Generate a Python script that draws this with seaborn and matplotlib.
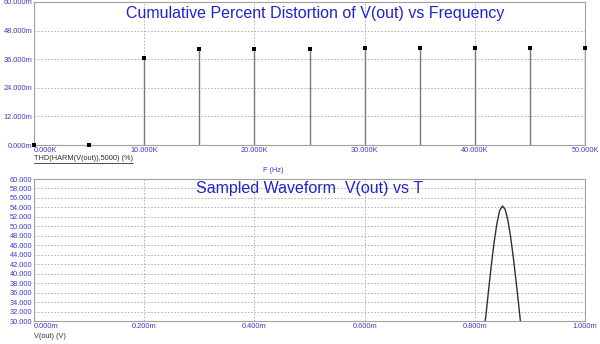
import matplotlib
matplotlib.use("Agg")
import matplotlib.pyplot as plt
import seaborn as sns
import pandas as pd
from matplotlib.lines import Line2D

# ---- data ----
freq_k = [0, 5, 10, 15, 20, 25, 30, 35, 40, 45, 50]
thd_m = [0.0, 0.1, 36.5, 40.1, 40.2, 40.4, 40.5, 40.6, 40.7, 40.7, 40.7]
freq_ticks = [0, 10, 20, 30, 40, 50]
freq_labels = ["0.000K", "10.000K", "20.000K", "30.000K", "40.000K", "50.000K"]
thd_ticks = [0, 12, 24, 36, 48, 60]
thd_labels = ["0.000m", "12.000m", "24.000m", "36.000m", "48.000m", "60.000m"]

t_ms = [0.812, 0.815, 0.820, 0.825, 0.830, 0.835, 0.840, 0.845, 0.850,
        0.855, 0.860, 0.865, 0.870, 0.875, 0.880, 0.885, 0.888]
v_out = [25.0, 27.0, 31.0, 36.5, 41.8, 46.6, 50.5, 53.3, 54.3,
         53.6, 51.3, 47.8, 43.3, 38.3, 33.0, 27.5, 24.5]
t_ticks = [0.0, 0.2, 0.4, 0.6, 0.8, 1.0]
t_labels = ["0.000m", "0.200m", "0.400m", "0.600m", "0.800m", "1.000m"]
v_ticks = list(range(30, 61, 2))
v_labels = [f"{v:.3f}" for v in v_ticks]

sns.set_theme(style="white")
plt.rcParams["font.family"] = ["Liberation Sans", "DejaVu Sans"]

BLUE = "#3a3ac8"
TITLE_BLUE = "#2222cc"
GRID = "#a8a8a8"
FRAME = "#a0a0a0"
TICK_FS = 5.3

fig = plt.figure(figsize=(6.0, 3.44), dpi=100)
W, H = 600, 344

def px_axes(l, t, r, b):
    return fig.add_axes([l / W, 1 - b / H, (r - l) / W, (b - t) / H])

ax1 = px_axes(34, 2, 585, 145)
ax2 = px_axes(34, 179, 585, 321)

def style(ax):
    for s in ax.spines.values():
        s.set_color(FRAME)
        s.set_linewidth(0.8)
    ax.tick_params(length=0, labelsize=TICK_FS, labelcolor=BLUE, pad=1.2)
    ax.grid(True, color=GRID, linestyle=(0, (2, 2)), linewidth=0.6)
    ax.set_axisbelow(True)
    ax.set_xlabel("")
    ax.set_ylabel("")

# ---- top: stems ----
df1 = pd.DataFrame({"f": freq_k, "thd": thd_m})
ax1.vlines(df1["f"], 0, df1["thd"], color="#7a7a7a", linewidth=1.0, zorder=2)
sns.scatterplot(data=df1, x="f", y="thd", ax=ax1, marker="s", s=9,
                color="black", edgecolor="black", linewidth=0, zorder=3,
                clip_on=False)
ax1.set_xlim(0, 50)
ax1.set_ylim(0, 60)
ax1.set_xticks(freq_ticks)
ax1.set_xticklabels(freq_labels)
ax1.set_yticks(thd_ticks)
ax1.set_yticklabels(thd_labels)
style(ax1)
ax1.xaxis.get_ticklabels()[0].set_ha("left")
ax1.text(0.51, 0.975, "Cumulative Percent Distortion of V(out) vs Frequency",
         transform=ax1.transAxes, ha="center", va="top", fontsize=11.5,
         color=TITLE_BLUE)

# ---- bottom: waveform ----
df2 = pd.DataFrame({"t": t_ms, "v": v_out})
sns.lineplot(data=df2, x="t", y="v", ax=ax2, color="#303030",
             linewidth=1.0, sort=False)
ax2.set_xlim(0, 1.0)
ax2.set_ylim(30, 60)
ax2.set_xticks(t_ticks)
ax2.set_xticklabels(t_labels)
ax2.set_yticks(v_ticks)
ax2.set_yticklabels(v_labels)
style(ax2)
ax2.xaxis.get_ticklabels()[0].set_ha("left")
ax2.text(0.5, 0.985, "Sampled Waveform  V(out) vs T",
         transform=ax2.transAxes, ha="center", va="top", fontsize=11.5,
         color=TITLE_BLUE)

# ---- labels ----
lab = fig.text(34 / W, 1 - 159 / H, "THD(HARM(V(out)),5000) (%)",
               ha="left", va="center", fontsize=TICK_FS, color="#303030")
fig.canvas.draw()
bb = lab.get_window_extent(fig.canvas.get_renderer())
fig.add_artist(Line2D([bb.x0 / W, bb.x1 / W], [(bb.y0 - 0.3) / H, (bb.y0 - 0.3) / H],
                      transform=fig.transFigure, color="#303030", linewidth=0.6))
fig.text(273 / W, 1 - 171 / H, "F (Hz)", ha="center", va="center",
         fontsize=TICK_FS, color=BLUE)
fig.text(34 / W, 1 - 337 / H, "V(out) (V)", ha="left", va="center",
         fontsize=TICK_FS, color="#303030")

fig.savefig("out.png", dpi=100)
